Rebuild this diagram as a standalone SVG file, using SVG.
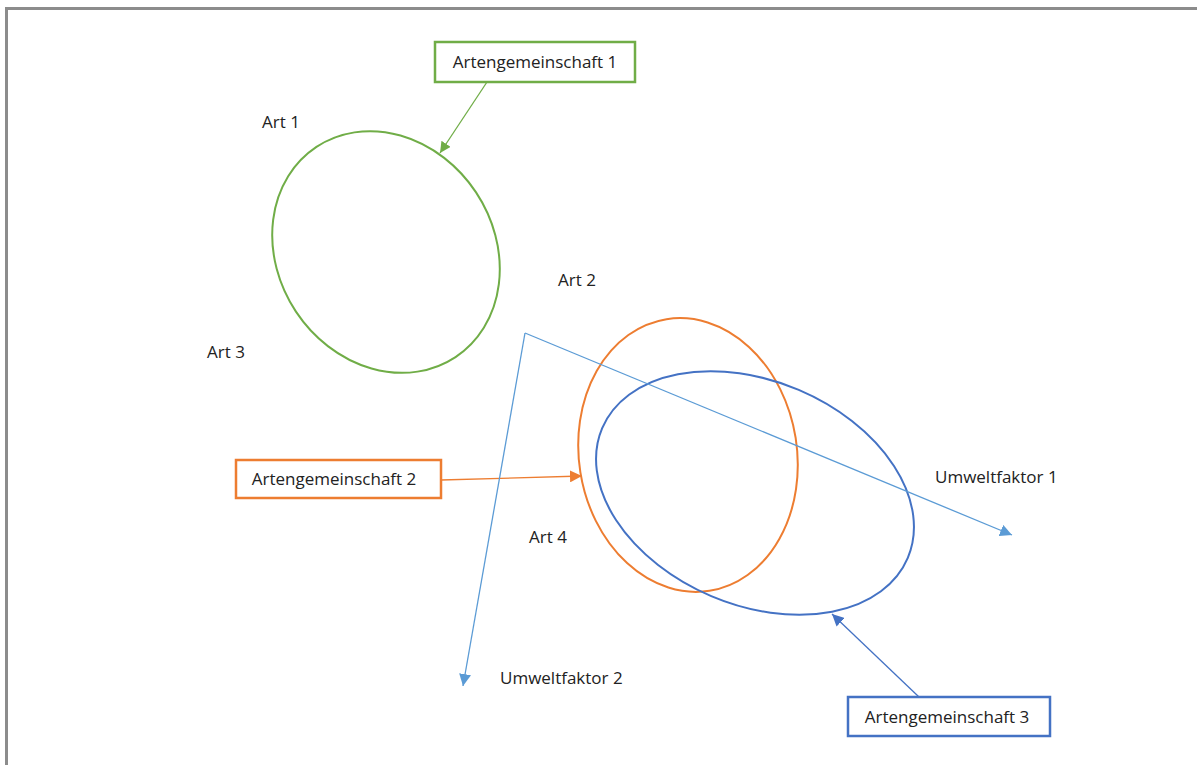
<svg xmlns="http://www.w3.org/2000/svg" width="1197" height="765" viewBox="0 0 1197 765">
<style>
text{font-family:"Open Sans","Liberation Sans",sans-serif;font-size:17px;fill:#222}
.box{fill:#fff;stroke-width:2.5}
.ell{fill:none;stroke-width:2}
</style>
<defs>
<marker id="mg" viewBox="0 0 10 10" refX="10" refY="5" markerWidth="11" markerHeight="11" markerUnits="userSpaceOnUse" orient="auto"><path d="M0,0L10,5L0,10z" fill="#70AD47"/></marker>
<marker id="mo" viewBox="0 0 10 10" refX="10" refY="5" markerWidth="12" markerHeight="12" markerUnits="userSpaceOnUse" orient="auto"><path d="M0,0L10,5L0,10z" fill="#ED7D31"/></marker>
<marker id="mb" viewBox="0 0 10 10" refX="10" refY="5" markerWidth="12" markerHeight="12" markerUnits="userSpaceOnUse" orient="auto"><path d="M0,0L10,5L0,10z" fill="#4472C4"/></marker>
<marker id="ml" viewBox="0 0 10 10" refX="10" refY="5" markerWidth="12" markerHeight="12" markerUnits="userSpaceOnUse" orient="auto"><path d="M0,0L10,5L0,10z" fill="#5B9BD5"/></marker>
</defs>
<rect width="1197" height="765" fill="#fff"/>
<g id="frame">
<path d="M6.5,765V8.5H1197" fill="none" stroke="#8c8c8c" stroke-width="3"/>
</g>
<g id="ellipses">
<ellipse id="ell1" class="ell" cx="386" cy="252" rx="126" ry="108" transform="rotate(56.5 386 252)" stroke="#70AD47"/>
<ellipse id="ell2" class="ell" cx="688" cy="455" rx="109" ry="137.5" transform="rotate(-9 688 455)" stroke="#ED7D31"/>
<ellipse id="ell3" class="ell" cx="755" cy="493" rx="166" ry="112" transform="rotate(23 755 493)" stroke="#4472C4"/>
</g>
<g id="connectors" fill="none" stroke-width="1.3">
<line x1="487" y1="82" x2="440" y2="153" stroke="#70AD47" marker-end="url(#mg)"/>
<line x1="441" y1="480" x2="582" y2="476" stroke="#ED7D31" marker-end="url(#mo)"/>
<line x1="919" y1="697" x2="832" y2="614" stroke="#4472C4" marker-end="url(#mb)"/>
<line x1="525" y1="333" x2="1012" y2="535" stroke="#5B9BD5" marker-end="url(#ml)"/>
<line x1="525" y1="333" x2="463" y2="686" stroke="#5B9BD5" marker-end="url(#ml)"/>
</g>
<g id="node1">
<rect class="box" x="435" y="42" width="200" height="40" stroke="#70AD47"/>
<text x="535" y="68" text-anchor="middle">Artengemeinschaft 1</text>
</g>
<g id="node2">
<rect class="box" x="236" y="460" width="205" height="38" stroke="#ED7D31"/>
<text x="334" y="485" text-anchor="middle">Artengemeinschaft 2</text>
</g>
<g id="node3">
<rect class="box" x="848" y="697" width="202" height="39" stroke="#4472C4"/>
<text x="947" y="723" text-anchor="middle">Artengemeinschaft 3</text>
</g>
<g id="labels">
<text x="262" y="128">Art 1</text>
<text x="558" y="286">Art 2</text>
<text x="207" y="358">Art 3</text>
<text x="529" y="543">Art 4</text>
<text x="935" y="483">Umweltfaktor 1</text>
<text x="500" y="684">Umweltfaktor 2</text>
</g>
</svg>
